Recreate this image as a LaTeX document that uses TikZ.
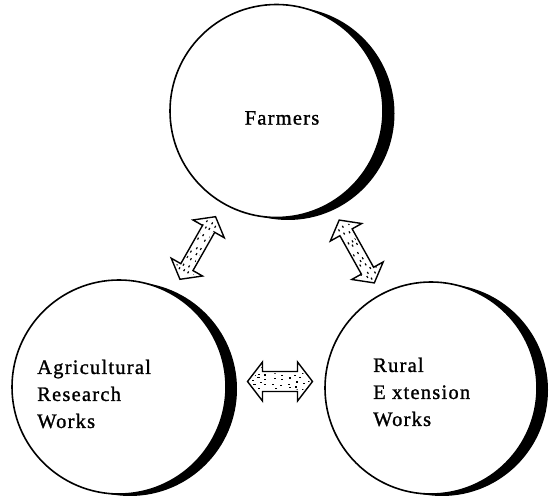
\documentclass[tikz,border=0pt]{standalone}
\usepackage{fontspec}
\setmainfont{Liberation Serif}
\newfontfamily\labelfont[LetterSpace=6, FakeBold=1.2]{Liberation Serif}
\usetikzlibrary{calc}

\tikzset{
  circ/.style={circle, draw=black, line width=1.6pt, fill=white, minimum size=#1, inner sep=0pt},
  shade/.style={circle, fill=black, minimum size=#1, inner sep=0pt},
  lbl/.style={font=\labelfont\fontsize{20.5}{27}\selectfont, align=left, inner sep=0pt},
  arrowline/.style={draw=black, line width=1.4pt, fill=white, line join=miter},
}

% stippled double arrow: #1 centre, #2 angle, #3 length, #4 shaft width, #5 head width, #6 head length
\newcommand{\stipplearrow}[6]{%
  \begin{scope}[shift={#1}, rotate=#2]
    \path[arrowline] (-#3/2,0) -- (-#3/2+#6,#5/2) -- (-#3/2+#6,#4/2) -- (#3/2-#6,#4/2)
      -- (#3/2-#6,#5/2) -- (#3/2,0) -- (#3/2-#6,-#5/2) -- (#3/2-#6,-#4/2)
      -- (-#3/2+#6,-#4/2) -- (-#3/2+#6,-#5/2) -- cycle;
    \begin{scope}
      \clip (-#3/2+3,0) -- (-#3/2+#6,#5/2-4) -- (-#3/2+#6,#4/2-2) -- (#3/2-#6,#4/2-2)
        -- (#3/2-#6,#5/2-4) -- (#3/2-3,0) -- (#3/2-#6,-#5/2+4) -- (#3/2-#6,-#4/2+2)
        -- (-#3/2+#6,-#4/2+2) -- (-#3/2+#6,-#5/2+4) -- cycle;
      % jittered grid of short dashes
      \foreach \gx in {-35,-28,...,35}{
        \foreach \gy in {-10,-5,...,10}{
          \pgfmathsetmacro\px{\gx+rand*2.2}
          \pgfmathsetmacro\py{\gy+rand*1.3+mod(abs(\gx),14)/7*2.5}
          \fill[black] (\px,\py) rectangle ++(2.1,1.2);
        }
      }
    \end{scope}
  \end{scope}%
}

\begin{document}
\begin{tikzpicture}[x=1pt, y=1pt]
  \pgfmathsetseed{7}
  \useasboundingbox (0,0) rectangle (559,500);
  \fill[white] (0,0) rectangle (559,500);

  % crescent shadows
  \node[shade=213pt] at (288,386.5) {};
  \node[shade=214pt] at (130,111) {};
  \node[shade=212pt] at (442,110) {};

  % circles
  \node[circ=213pt] (farm) at (276.5,389) {};
  \node[circ=214pt] (agri) at (119,113) {};
  \node[circ=212pt] (rural) at (431,112) {};

  % labels
  \node[lbl] (tfarm) at ([shift={(5.5,-7)}]farm.center) {Farmers};
  \node[lbl, anchor=west] (tagri) at (37,106) {Agricultural\\Research\\Works};
  \node[lbl, anchor=west] (trural) at (373,108) {Rural\\E xtension\\Works};

  % double arrows between the circles
  \stipplearrow{($(farm)!0.5!(agri)+(0,1)$)}{60.4}{72}{14}{36}{14}
  \stipplearrow{($(farm)!0.5!(rural)+(3,-2)$)}{-60.8}{72}{14}{36}{14}
  \stipplearrow{($(agri)!0.5!(rural)+(5,6)$)}{0}{65}{20}{39}{15}
\end{tikzpicture}
\end{document}
